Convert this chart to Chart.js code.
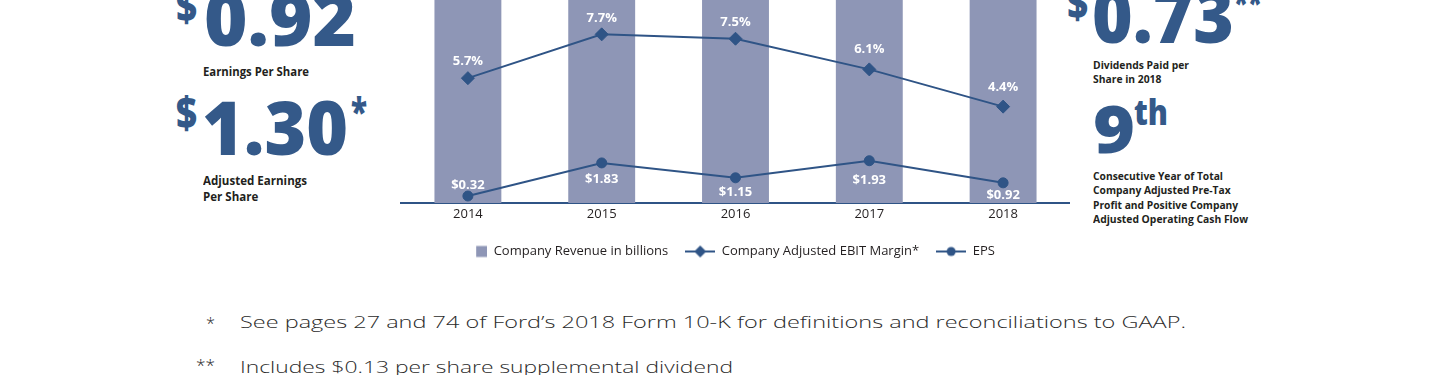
<!DOCTYPE html>
<html>
<head>
<meta charset="utf-8">
<script src="https://cdn.jsdelivr.net/npm/chart.js@4.4.1/dist/chart.umd.min.js"></script>
<style>
  html, body { margin: 0; padding: 0; background: #fff; }
  body { width: 1440px; height: 375px; overflow: hidden; position: relative; font-family: 'Open Sans', sans-serif; }
  .t { position: absolute; white-space: nowrap; line-height: 1; transform-origin: 0 0; color: #231f20; font-weight: 700; }
  .big { color: #345989; font-weight: 800; }
  .note { color: #2b2b2b; font-weight: 300; }
  #wrap { position: absolute; left: 382px; top: -200px; width: 688px; height: 468px; }
</style>
</head>
<body>

<!-- left column -->
<span class="t big" data-x="176" data-b="22" data-s="44" data-w="21">$</span>
<span class="t big" data-x="204" data-b="46" data-s="74" data-w="152">0.92</span>
<span class="t" data-x="203" data-b="76" data-s="11.5" data-w="106">Earnings Per Share</span>
<span class="t big" data-x="176" data-b="129" data-s="44" data-w="21">$</span>
<span class="t big" data-x="202" data-b="155" data-s="74" data-w="146">1.30</span>
<span class="t big" data-x="351" data-b="126" data-s="38" data-w="16">*</span>
<span class="t" data-x="203" data-b="184.5" data-s="11.5" data-w="104">Adjusted Earnings</span>
<span class="t" data-x="203" data-b="200.5" data-s="11.5">Per Share</span>

<!-- right column -->
<span class="t big" data-x="1067" data-b="19" data-s="44" data-w="21">$</span>
<span class="t big" data-x="1092" data-b="43" data-s="74" data-w="142">0.73</span>
<span class="t big" data-x="1234" data-b="17" data-s="38" data-w="28">**</span>
<span class="t" data-x="1093" data-b="69" data-s="11" data-w="96">Dividends Paid per</span>
<span class="t" data-x="1093" data-b="83" data-s="11">Share in 2018</span>
<span class="t big" data-x="1093" data-b="153" data-s="66" data-w="42">9</span>
<span class="t big" data-x="1134" data-b="125" data-s="35" data-w="34">th</span>
<span class="t" data-x="1093" data-b="180" data-s="11" data-w="130">Consecutive Year of Total</span>
<span class="t" data-x="1093" data-b="194.3" data-s="11">Company Adjusted Pre-Tax</span>
<span class="t" data-x="1093" data-b="208.5" data-s="11">Profit and Positive Company</span>
<span class="t" data-x="1093" data-b="222.7" data-s="11" data-w="155">Adjusted Operating Cash Flow</span>

<!-- footnotes -->
<span class="t note" data-x="206" data-b="329" data-s="16" data-w="9">*</span>
<span class="t note" data-x="240" data-b="328" data-s="15.5" data-w="946">See pages 27 and 74 of Ford’s 2018 Form 10-K for definitions and reconciliations to GAAP.</span>
<span class="t note" data-x="196" data-b="371" data-s="16" data-w="19">**</span>
<span class="t note" data-x="240" data-b="373" data-s="15.5" data-w="493">Includes $0.13 per share supplemental dividend</span>

<div id="wrap"><canvas id="c"></canvas></div>

<script>
const years = ['2014', '2015', '2016', '2017', '2018'];
const revenue = [144.1, 149.6, 151.8, 156.8, 160.3];   // bars run off the top of the crop
const ebitMargin = [5.7, 7.7, 7.5, 6.1, 4.4];
const eps = [0.32, 1.83, 1.15, 1.93, 0.92];

const barColor = '#8e96b6';
const lineColor = '#2f5486';
const ink = '#231f20';

// label shifts from the marker, px (negative = above)
const ebitShift = [-16.5, -16, -16, -20, -19.5];
const epsShift = [-11, 16, 14, 20, 12];

// place the html text by its baseline and stretch it to the width seen in the picture
document.querySelectorAll('.t').forEach(el => {
  const s = +el.dataset.s;
  el.style.fontSize = s + 'px';
  el.style.left = el.dataset.x + 'px';
  const mark = document.createElement('i');
  mark.style.cssText = 'display:inline-block;width:0;height:0;vertical-align:baseline';
  el.appendChild(mark);
  el.style.top = (+el.dataset.b - mark.offsetTop) + 'px';
  if (el.dataset.w) {
    const w = el.getBoundingClientRect().width;
    el.style.transform = 'scaleX(' + (+el.dataset.w / w) + ')';
  }
});
// lines without their own width follow the line above
let lastScale = '';
document.querySelectorAll('.t').forEach(el => {
  if (el.dataset.w) lastScale = el.style.transform;
  else el.style.transform = lastScale;
});

function legendIcon(kind) {
  const c = document.createElement('canvas');
  c.width = 30; c.height = 14;
  const g = c.getContext('2d');
  if (kind === 'square') {
    g.fillStyle = barColor;
    g.fillRect(19, 1.5, 11, 11);
    return c;
  }
  g.strokeStyle = lineColor; g.lineWidth = 2;
  g.beginPath(); g.moveTo(0, 7); g.lineTo(30, 7); g.stroke();
  g.fillStyle = lineColor;
  g.beginPath();
  if (kind === 'diamond') {
    g.moveTo(15, 1); g.lineTo(21, 7); g.lineTo(15, 13); g.lineTo(9, 7); g.closePath();
  } else {
    g.arc(15, 7, 4.5, 0, Math.PI * 2);
  }
  g.fill();
  return c;
}
const icons = [legendIcon('square'), legendIcon('diamond'), legendIcon('circle')];

const valueLabels = {
  id: 'valueLabels',
  afterDatasetsDraw(chart) {
    const ctx = chart.ctx;
    ctx.save();
    ctx.fillStyle = '#fff';
    ctx.font = '700 13px "Open Sans"';
    ctx.textAlign = 'center';
    ctx.textBaseline = 'middle';
    chart.getDatasetMeta(1).data.forEach((pt, i) => {
      ctx.fillText(ebitMargin[i].toFixed(1) + '%', pt.x, pt.y + ebitShift[i]);
    });
    chart.getDatasetMeta(2).data.forEach((pt, i) => {
      ctx.fillText('$' + eps[i].toFixed(2), pt.x, pt.y + epsShift[i]);
    });
    ctx.restore();
  }
};

Chart.defaults.font.family = "'Open Sans', sans-serif";

new Chart(document.getElementById('c'), {
  type: 'bar',
  data: {
    labels: years,
    datasets: [
      {
        label: 'Company Revenue in billions',
        data: revenue,
        backgroundColor: barColor,
        yAxisID: 'y1',
        barPercentage: 0.5,
        categoryPercentage: 1,
        order: 2
      },
      {
        type: 'line',
        label: 'Company Adjusted EBIT Margin*',
        data: ebitMargin,
        borderColor: lineColor,
        backgroundColor: lineColor,
        borderWidth: 2,
        pointStyle: 'rectRot',
        pointRadius: 6.5,
        pointBorderWidth: 1,
        tension: 0,
        yAxisID: 'y',
        order: 1
      },
      {
        type: 'line',
        label: 'EPS',
        data: eps,
        borderColor: lineColor,
        backgroundColor: lineColor,
        borderWidth: 2,
        pointStyle: 'circle',
        pointRadius: 5,
        pointBorderWidth: 1,
        tension: 0,
        yAxisID: 'y',
        order: 0
      }
    ]
  },
  options: {
    responsive: true,
    maintainAspectRatio: false,
    animation: false,
    events: [],
    layout: { padding: 0, autoPadding: false },
    scales: {
      x: {
        grid: { display: false, drawTicks: false },
        border: { display: true, color: lineColor, width: 2 },
        ticks: { padding: 3, color: ink, font: { size: 13 } },
        afterFit: s => { s.height = 25; }
      },
      y: {
        position: 'left',
        min: 0,
        max: 18.4,
        grid: { display: false },
        border: { display: false },
        ticks: { display: false },
        afterFit: s => { s.width = 19; }
      },
      y1: { display: false, min: 0, max: 200 }
    },
    plugins: {
      tooltip: { enabled: false },
      legend: {
        position: 'bottom',
        labels: {
          usePointStyle: true,
          pointStyleWidth: 30,
          boxHeight: 13,
          padding: 17,
          color: ink,
          font: { size: 13 },
          sort: (a, b) => a.datasetIndex - b.datasetIndex,
          generateLabels: chart => Chart.defaults.plugins.legend.labels.generateLabels(chart).map(l => {
            l.pointStyle = icons[l.datasetIndex];
            return l;
          })
        }
      }
    }
  },
  plugins: [valueLabels]
});
</script>
</body>
</html>
